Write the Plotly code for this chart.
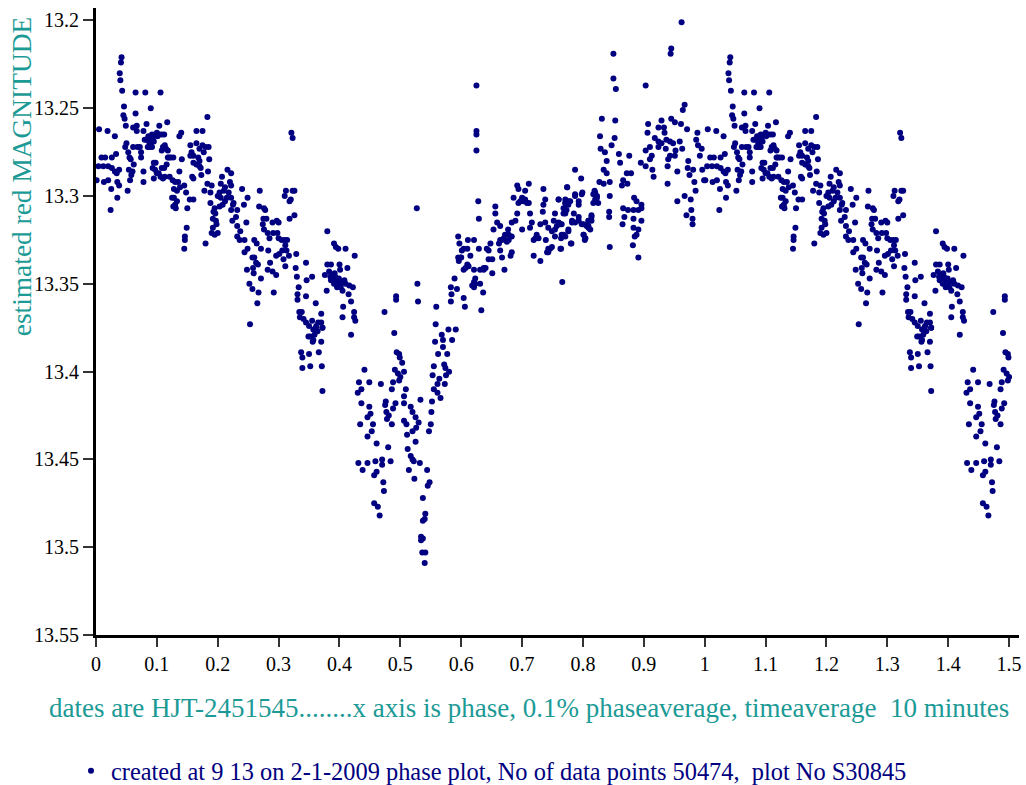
import numpy as np
import plotly.graph_objects as go

phase_a = [.005,.019,.031,.009,.015,.033,.026,.004,.012,.020,.026,.031,.038,.034,.001,.013,.020,.035,.038,.025,.052,.035,.024,.042,.041,.039,.040,.043,.046,.045,.047,.049]
mag_a = [13.262,13.263,13.266,13.278,13.278,13.276,13.278,13.283,13.283,13.283,13.284,13.286,13.285,13.287,13.291,13.292,13.291,13.292,13.294,13.296,13.297,13.301,13.308,13.221,13.224,13.230,13.234,13.240,13.249,13.254,13.256,13.260]

phase_b = [.065,.081,.106,.090,.065,.083,.067,.061,.067,.078,.104,.117,.048,.050,.053,.055,.057,.061,.068,.072,.074,.074,.054,.058,.060,.056,.062,.078,.078,.095,
           .083,.086,.088,.090,.085,.088,.092,.090,.094,.097,.100,.104,.108,.112,.080,.110,.113,.115,.118,.108,.118,.120,.123,.127,.095,.098,.093,.097,.100,.103,.106,.110,.113,.108,.112,.116]
mag_b = [13.241,13.241,13.241,13.250,13.253,13.259,13.260,13.261,13.263,13.263,13.260,13.258,13.272,13.270,13.275,13.278,13.279,13.272,13.272,13.272,13.275,13.278,13.285,13.288,13.286,13.291,13.282,13.286,13.292,13.290,
         13.268,13.266,13.270,13.268,13.272,13.272,13.272,13.266,13.266,13.265,13.264,13.265,13.265,13.265,13.268,13.272,13.271,13.273,13.274,13.274,13.278,13.278,13.278,13.278,13.281,13.281,13.284,13.285,13.287,13.287,13.289,13.290,13.289,13.284,13.284,13.282]

phase_c = [.121,.126,.130,.135,.128,.133,.138,.145,.148,.128,.133,.125,.130,.127,.131,.150,.154,.160,.149,.146,.146,.145,.180,.137,.140,.165,.175,.183,.155,.157,.165,.170,.175,.180,.185,.177,.155,.160,.168,.170,.160,.165,.172,.170,.186,.141,.137,.160,.158,.173,.184,.190,.183,.178,.188]
mag_c = [13.289,13.291,13.292,13.292,13.296,13.297,13.295,13.294,13.298,13.301,13.303,13.301,13.305,13.306,13.307,13.307,13.302,13.302,13.318,13.323,13.325,13.330,13.327,13.266,13.264,13.263,13.263,13.255,13.271,13.275,13.270,13.273,13.271,13.272,13.272,13.275,13.277,13.277,13.278,13.280,13.281,13.282,13.284,13.283,13.279,13.279,13.286,13.290,13.289,13.288,13.286,13.294,13.293,13.297,13.298]

phase_d = [.216,.222,.207,.205,.212,.220,.222,.210,.203,.218,.215,.222,.226,.200,.205,.188,.195,.203,.208,.212,.225,.240,.249,.243,.232,.222,.193,.196,.192,.197,.198,.192,.190,.195,.200,.224,.230,.232,.237,.232,.236,.244,.247]
mag_d = [13.285,13.287,13.289,13.293,13.295,13.292,13.294,13.297,13.298,13.298,13.301,13.301,13.304,13.300,13.301,13.304,13.307,13.306,13.305,13.303,13.305,13.296,13.301,13.305,13.308,13.308,13.309,13.310,13.313,13.314,13.316,13.318,13.321,13.322,13.321,13.314,13.312,13.317,13.320,13.323,13.325,13.325,13.315]

phase_e = [.269,.268,.276,.278,.275,.280,.274,.276,.282,.290,.297,.300,.291,.298,.285,.300,.305,.310,.314,.311,.260,.264,.271,.283,.306,.313,.317,.329,.244,.249,.257,.260,.263,.266,.248,.258,.259,.271,.296,.301,.308,.286,.311,.282,.290,.296,.252,.257,.267,.292,.265,.253,.321,.323,.312,.323,.320,.310,.326,.318,.326,.318]
mag_e = [13.297,13.306,13.307,13.308,13.313,13.313,13.316,13.319,13.321,13.315,13.314,13.315,13.321,13.321,13.324,13.324,13.325,13.325,13.325,13.328,13.325,13.327,13.330,13.331,13.331,13.331,13.334,13.333,13.332,13.330,13.335,13.335,13.338,13.339,13.342,13.341,13.344,13.347,13.334,13.333,13.336,13.338,13.340,13.342,13.343,13.345,13.350,13.353,13.355,13.355,13.361,13.373,13.264,13.267,13.297,13.297,13.302,13.300,13.297,13.303,13.311,13.313]

phase_f = [.328,.345,.330,.355,.346,.333,.331,.345,.331,.361,.334,.338,.335,.341,.370,.345,.355,.350,.370,.361,.372,.352,.359,.357,.370,.350,.366,.337,.339,.339,.352,.371,.372,.356,.349,.364,.372,
           .380,.391,.394,.398,.410,.425,.380,.386,.400,.401,.413,.376,.389,.391,.386,.395,.400,.408,.410,.391,.402,.405,.416,.422,.379,.415,.419,.406,.405,.424,.424,.426,.419]
mag_f = [13.341,13.338,13.346,13.346,13.348,13.352,13.356,13.357,13.359,13.361,13.366,13.366,13.369,13.370,13.367,13.372,13.371,13.374,13.372,13.375,13.375,13.380,13.379,13.382,13.383,13.390,13.389,13.389,13.392,13.398,13.397,13.397,13.411,13.383,13.380,13.377,13.375,
         13.320,13.327,13.329,13.330,13.330,13.334,13.339,13.339,13.339,13.342,13.341,13.345,13.345,13.347,13.348,13.349,13.350,13.348,13.350,13.350,13.352,13.354,13.351,13.352,13.354,13.356,13.360,13.363,13.369,13.366,13.369,13.371,13.379]

phase_g = [.527,.528,.529,.493,.493,.474,.490,.494,.498,.499,.503,.441,.491,.496,.506,.500,.432,.449,.468,.488,.498,.436,.430,.486,.509,.506,.533,.476,.492,.436,.475,.506,.449,.488,.517,.451,.477,.481,.520,.525,.446,.478,.506,.510,.530,.455,.434,.486,.526,.520,.453,.511,.446,.525,.461,.480,.512,.517,
           .431,.446,.459,.470,.470,.484,.520,.522,.532,.438,.514,.544,.461,.457,.523,.472,.548,.545,.473,.537,.457,.463,.466,.541,.540,.537,.534,.537,.534,.536,.541,.540]
mag_g = [13.307,13.350,13.360,13.357,13.359,13.366,13.378,13.389,13.390,13.392,13.395,13.399,13.399,13.401,13.400,13.403,13.406,13.406,13.407,13.406,13.405,13.410,13.412,13.410,13.410,13.414,13.416,13.417,13.418,13.418,13.419,13.418,13.420,13.421,13.420,13.424,13.423,13.425,13.423,13.426,13.426,13.427,13.428,13.430,13.429,13.430,13.430,13.430,13.432,13.434,13.434,13.436,13.437,13.440,13.441,13.443,13.444,13.448,
         13.452,13.452,13.451,13.450,13.453,13.451,13.450,13.451,13.452,13.456,13.456,13.456,13.457,13.459,13.461,13.463,13.463,13.465,13.468,13.472,13.475,13.477,13.482,13.481,13.484,13.485,13.494,13.495,13.496,13.503,13.503,13.509]

phase_h = [.552,.551,.550,.547,.566,.555,.561,.561,.564,.573,.575,.580,.553,.555,.572,.574,.562,.577,.570,.557,.568,.570,.585,.579,.591,.558,.559,.583,.593,.584,.583,.604,.589,.606,.633,.636,.618,.621,.631,.623,.625,.625,.625,.625]
mag_h = [13.417,13.423,13.430,13.434,13.415,13.410,13.412,13.407,13.404,13.407,13.402,13.400,13.402,13.397,13.396,13.398,13.390,13.390,13.386,13.383,13.379,13.382,13.382,13.376,13.376,13.373,13.363,13.352,13.353,13.356,13.360,13.358,13.347,13.363,13.365,13.355,13.351,13.352,13.350,13.347,13.237,13.263,13.265,13.274]

phase_i = [.628,.629,.595,.611,.621,.597,.604,.610,.615,.629,.595,.600,.596,.610,.604,.621,.631,.640,.645,.651,.637,.651,.671,.642,.648,.645,.664,.667,.681,.683,.662,.670,.678,.675,.683,.677,.700,.653,.659,.664,.683,.689,.656,.656,.686,.692,.697,.705,.711,.713,.734,.738,.735,.735,.692,.694,.705,.711]
mag_i = [13.303,13.313,13.323,13.325,13.325,13.327,13.330,13.330,13.334,13.330,13.335,13.335,13.337,13.339,13.342,13.342,13.342,13.341,13.336,13.336,13.341,13.344,13.342,13.330,13.327,13.331,13.331,13.335,13.334,13.332,13.327,13.324,13.322,13.326,13.323,13.319,13.319,13.319,13.315,13.317,13.315,13.314,13.306,13.310,13.301,13.310,13.303,13.302,13.304,13.310,13.309,13.302,13.305,13.296,13.294,13.296,13.297,13.293]

phase_j = [.716,.713,.730,.738,.743,.724,.719,.727,.739,.754,.749,.765,.776,.771,.754,.760,.757,.765,.760,.771,.779,.793,.771,.782,.793,.801,.809,.814,.809,.820,.820,.801,.803,.780,.763,.743,.749,.741,.719,.730,.766,.774,.798,.787]
mag_j = [13.315,13.318,13.316,13.315,13.318,13.322,13.325,13.324,13.325,13.323,13.320,13.322,13.319,13.323,13.310,13.315,13.317,13.316,13.302,13.304,13.303,13.305,13.310,13.315,13.314,13.316,13.314,13.311,13.318,13.302,13.298,13.322,13.325,13.327,13.330,13.330,13.329,13.332,13.334,13.337,13.349,13.295,13.299,13.299]

phase_k = [.760,.774,.787,.797,.799,.787,.771,.776,.793,.768,.785,.793,.782,.798,.809,.814,.806,.812,.763,.776,.768,.764,.781,.804,.801,.764,
           .819,.823,.817,.825,.827,.844,.834,.834,.839,.839,.861,.859,.876,.829,.836,.847,.852,.828,.831,.853,.854,.850,.850,.844,.843,.843,.844,.864,.873,.866,.872,.879]
mag_k = [13.302,13.295,13.285,13.290,13.298,13.300,13.304,13.303,13.303,13.310,13.310,13.312,13.314,13.316,13.314,13.312,13.317,13.319,13.316,13.320,13.322,13.324,13.327,13.324,13.322,13.330,
         13.297,13.301,13.304,13.304,13.292,13.292,13.293,13.285,13.287,13.280,13.281,13.276,13.277,13.273,13.275,13.271,13.267,13.266,13.256,13.257,13.239,13.233,13.219,13.300,13.309,13.312,13.329,13.294,13.293,13.291,13.287,13.287]

phase_l = [.884,.888,.896,.866,.874,.883,.891,.896,.868,.883,.865,.896,.883,.891,.888,.885,.882,.891,
           .903,.962,.945,.944,.967,.964,.907,.906,.929,.945,.951,.961,.924,.933,.971,.934,.918,.924,.937,.943,.929,.948,.959,.952,.963,.910,.903,.936,.924,.913,.910,.951,.943,.895,.903,.914,.916,.939,.940,.955,.939,
           .973,.972,.981,.975,.983,.989,.995,.988,.992,.967,.977,.955,.985,.978,.970,.980,.980,.996,.999,.986]
mag_l = [13.301,13.303,13.305,13.307,13.308,13.308,13.308,13.307,13.312,13.313,13.316,13.314,13.318,13.319,13.322,13.323,13.328,13.335,
         13.237,13.201,13.216,13.219,13.248,13.251,13.259,13.264,13.257,13.256,13.258,13.259,13.261,13.261,13.262,13.264,13.267,13.269,13.268,13.269,13.270,13.270,13.269,13.274,13.273,13.272,13.274,13.273,13.272,13.277,13.279,13.277,13.277,13.281,13.283,13.285,13.289,13.283,13.279,13.286,13.293,
         13.280,13.284,13.285,13.288,13.292,13.271,13.273,13.264,13.277,13.300,13.302,13.303,13.297,13.308,13.311,13.313,13.316,13.285,13.291,13.268]

# Further points read inside the dense clumps
phase_m = [.672,.678,.667,.702,.708,.700,.694,.771,.776,.773,.768,.787,.809,.814,.817,.823,.743,.746,.722,.754,.752,.601,.599,.612,.621,.623,.637,.607,.664,
           .385,.388,.392,.396,.399,.403,.393,.383,.090,.093,.087,.095,.092,.101,.362,.365,.357]
mag_m = [13.322,13.325,13.325,13.303,13.304,13.301,13.304,13.302,13.305,13.308,13.307,13.315,13.317,13.314,13.299,13.300,13.332,13.330,13.324,13.319,13.314,13.331,13.335,13.340,13.349,13.350,13.342,13.341,13.325,
         13.346,13.348,13.344,13.352,13.347,13.349,13.346,13.343,13.270,13.268,13.268,13.269,13.265,13.266,13.374,13.372,13.376]

x_ticks = [0, .1, .2, .3, .4, .5, .6, .7, .8, .9, 1, 1.1, 1.2, 1.3, 1.4, 1.5]
x_tick_labels = ["0", "0.1", "0.2", "0.3", "0.4", "0.5", "0.6", "0.7", "0.8", "0.9", "1", "1.1", "1.2", "1.3", "1.4", "1.5"]
y_ticks = [13.2, 13.25, 13.3, 13.35, 13.4, 13.45, 13.5, 13.55]
y_tick_labels = ["13.2", "13.25", "13.3", "13.35", "13.4", "13.45", "13.5", "13.55"]

y_title = "estimated red MAGNITUDE"
x_title = "dates are HJT-2451545........x axis is phase, 0.1% phaseaverage, timeaverage\u00a0\u00a010 minutes"
series_name = "created at 9 13 on 2-1-2009 phase plot, No of data points 50474,\u00a0\u00a0plot No S30845"

phase = np.array(phase_a + phase_b + phase_c + phase_d + phase_e + phase_f + phase_g + phase_h + phase_i + phase_j + phase_k + phase_l + phase_m)
mag = np.array(mag_a + mag_b + mag_c + mag_d + mag_e + mag_f + mag_g + mag_h + mag_i + mag_j + mag_k + mag_l + mag_m)
again = phase <= 0.5
x = np.concatenate([phase, phase[again] + 1])
y = np.concatenate([mag, mag[again]])

TEAL = "#1c9a96"
NAVY = "#000080"
SERIF = "Liberation Serif"

fig = go.Figure(go.Scatter(x=x, y=y, mode="markers", name=series_name,
                           marker=dict(color=NAVY, size=6, line=dict(width=0)), showlegend=True))
fig.update_layout(
    width=1026, height=800, autosize=False,
    plot_bgcolor="white", paper_bgcolor="white",
    margin=dict(l=96, r=4, t=8, b=165, pad=0),
    font=dict(family=SERIF, color="black", size=20),
    showlegend=True,
    legend=dict(x=-0.0271, y=-0.181, xanchor="left", yanchor="top", xref="paper", yref="paper",
                font=dict(family=SERIF, size=24.4, color=NAVY), bgcolor="rgba(0,0,0,0)", itemwidth=30),
    xaxis=dict(range=[0, 1.5163], tickvals=x_ticks, ticktext=x_tick_labels, showgrid=False, zeroline=False,
               showline=True, linecolor="black", linewidth=3, ticks="outside", ticklen=9, tickwidth=1.5,
               tickcolor="#333333", tickfont=dict(family=SERIF, size=20, color="black"), anchor="y"),
    yaxis=dict(range=[13.55, 13.1929], tickvals=y_ticks, ticktext=y_tick_labels, showgrid=False, zeroline=False,
               showline=True, linecolor="black", linewidth=3, ticks="outside", ticklen=10, tickwidth=1.5,
               tickcolor="#333333", tickfont=dict(family=SERIF, size=20, color="black"), anchor="x"),
    annotations=[
        dict(text=y_title, xref="paper", yref="paper", x=-0.0799, y=0.7305, xanchor="center", yanchor="middle",
             textangle=-90, showarrow=False, font=dict(family=SERIF, size=27.4, color=TEAL)),
        dict(text=x_title, xref="paper", yref="paper", x=0.4687, y=-0.1164, xanchor="center", yanchor="middle",
             showarrow=False, font=dict(family=SERIF, size=27, color=TEAL)),
    ],
)
fig.write_html("out.html", config={"displayModeBar": False},
               post_script="document.body.style.margin='0';document.documentElement.style.overflow='hidden';")
